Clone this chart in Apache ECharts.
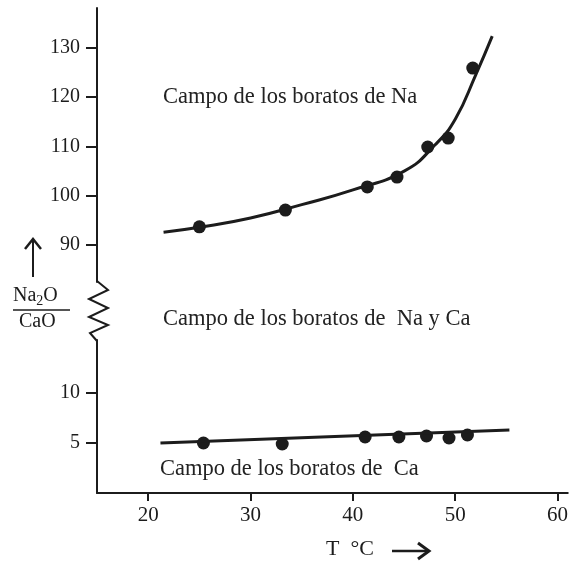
<!DOCTYPE html>
<html>
<head>
<meta charset="utf-8">
<script src="https://cdn.jsdelivr.net/npm/echarts@6/dist/echarts.min.js"></script>
<style>
  html, body { margin: 0; padding: 0; background: #fff; }
  #chart { width: 571px; height: 564px; }
</style>
</head>
<body>
<div id="chart"></div>
<script>
// tick labels
const xTicks = [20, 30, 40, 50, 60]
const naTicks = [90, 100, 110, 120, 130]
const caTicks = [5, 10]

// Na borates (upper panel): measured points and drawn curve
const naTemp = [25, 33.4, 41.4, 44.3, 47.3, 49.3, 51.7]
const naRatio = [93.7, 97.1, 101.8, 103.8, 109.9, 111.7, 125.9]
const naCurveTemp = [21.5, 25, 30, 35, 40, 45, 48, 50, 52, 53.6]
const naCurveRatio = [92.6, 93.6, 95.5, 98.2, 101.2, 105.0, 110.3, 115.6, 124.6, 132.4]

// Ca borates (lower panel)
const caTemp = [25.4, 33.1, 41.2, 44.5, 47.2, 49.4, 51.2]
const caRatio = [5.0, 4.9, 5.6, 5.6, 5.7, 5.5, 5.8]
const caLineTemp = [21.2, 55.3]
const caLineRatio = [5.0, 6.3]

const ink = '#1c1c1c'
const serif = '"Liberation Serif", "DejaVu Serif", serif'

function pairs(xs, ys) {
  return xs.map((x, i) => [x, ys[i]])
}

const chart = echarts.init(document.getElementById('chart'))

const yAxisCommon = {
  type: 'value',
  splitLine: { show: false },
  axisLine: { show: true, lineStyle: { color: ink, width: 2 } },
  axisTick: { show: true, length: 11, lineStyle: { color: ink, width: 2 } },
  axisLabel: { color: ink, fontFamily: serif, fontSize: 20, margin: 17 }
}

chart.setOption({
  animation: false,
  grid: [
    { left: 97, right: 3, top: 8, height: 274 },
    { left: 97, right: 3, top: 340, height: 153 }
  ],
  xAxis: [
    { gridIndex: 0, type: 'value', min: 15, max: 61, show: false },
    {
      gridIndex: 1,
      type: 'value',
      min: 15,
      max: 61,
      splitLine: { show: false },
      axisLine: { show: true, onZero: false, lineStyle: { color: ink, width: 2 } },
      axisTick: { show: true, length: 8, customValues: xTicks, lineStyle: { color: ink, width: 2 } },
      axisLabel: { color: ink, fontFamily: serif, fontSize: 21, margin: 12, customValues: xTicks }
    }
  ],
  yAxis: [
    Object.assign({}, yAxisCommon, {
      gridIndex: 0, min: 82.5, max: 138.1,
      axisTick: Object.assign({}, yAxisCommon.axisTick, { customValues: naTicks }),
      axisLabel: Object.assign({}, yAxisCommon.axisLabel, { customValues: naTicks })
    }),
    Object.assign({}, yAxisCommon, {
      gridIndex: 1, min: 0, max: 15.3,
      axisTick: Object.assign({}, yAxisCommon.axisTick, { customValues: caTicks }),
      axisLabel: Object.assign({}, yAxisCommon.axisLabel, { customValues: caTicks })
    })
  ],
  series: [
    {
      type: 'line', xAxisIndex: 0, yAxisIndex: 0,
      data: pairs(naCurveTemp, naCurveRatio),
      smooth: 0.5, showSymbol: false,
      lineStyle: { color: ink, width: 3 }
    },
    {
      type: 'scatter', xAxisIndex: 0, yAxisIndex: 0,
      data: pairs(naTemp, naRatio),
      symbolSize: 13, itemStyle: { color: ink, opacity: 1 }
    },
    {
      type: 'line', xAxisIndex: 1, yAxisIndex: 1,
      data: pairs(caLineTemp, caLineRatio),
      showSymbol: false,
      lineStyle: { color: ink, width: 3 }
    },
    {
      type: 'scatter', xAxisIndex: 1, yAxisIndex: 1,
      data: pairs(caTemp, caRatio),
      symbolSize: 13, itemStyle: { color: ink, opacity: 1 }
    }
  ],
  graphic: [
    // axis break zigzag
    {
      type: 'polyline',
      shape: { points: [[97, 281], [108, 290], [89, 299], [108, 308], [89, 317], [108, 325], [90, 333], [97, 341]] },
      style: { stroke: ink, lineWidth: 2, fill: null }
    },
    // field labels
    {
      type: 'text', left: 163, top: 86,
      style: { text: 'Campo de los boratos de Na', font: '22.5px ' + serif, fill: '#222' }
    },
    {
      type: 'text', left: 163, top: 308,
      style: { text: 'Campo de los boratos de  Na y Ca', font: '22.5px ' + serif, fill: '#222' }
    },
    {
      type: 'text', left: 160, top: 458,
      style: { text: 'Campo de los boratos de  Ca', font: '22.5px ' + serif, fill: '#222' }
    },
    // y axis name: arrow and Na2O / CaO
    {
      type: 'polyline',
      shape: { points: [[33, 277], [33, 240]] },
      style: { stroke: ink, lineWidth: 2, fill: null }
    },
    {
      type: 'polyline',
      shape: { points: [[25, 249], [33, 239], [41, 249]] },
      style: { stroke: ink, lineWidth: 2.5, fill: null }
    },
    {
      type: 'text', left: 13, top: 286,
      style: {
        text: '{n|Na}{s|2}{n|O}',
        fill: ink,
        rich: {
          n: { font: '20px ' + serif, fill: ink },
          s: { font: '14px ' + serif, fill: ink, padding: [10, 0, 0, 0] }
        }
      }
    },
    {
      type: 'line',
      shape: { x1: 13, y1: 310, x2: 70, y2: 310 },
      style: { stroke: ink, lineWidth: 1.5 }
    },
    {
      type: 'text', left: 19, top: 312,
      style: { text: 'CaO', font: '20px ' + serif, fill: ink }
    },
    // x axis name: T °C and arrow
    {
      type: 'text', left: 326, top: 538,
      style: { text: 'T  \u00b0C', font: '22px ' + serif, fill: ink }
    },
    {
      type: 'line',
      shape: { x1: 392, y1: 551, x2: 428, y2: 551 },
      style: { stroke: ink, lineWidth: 2.5 }
    },
    {
      type: 'polyline',
      shape: { points: [[418, 543], [429, 551], [418, 559]] },
      style: { stroke: ink, lineWidth: 3, fill: null }
    }
  ]
})
</script>
</body>
</html>
